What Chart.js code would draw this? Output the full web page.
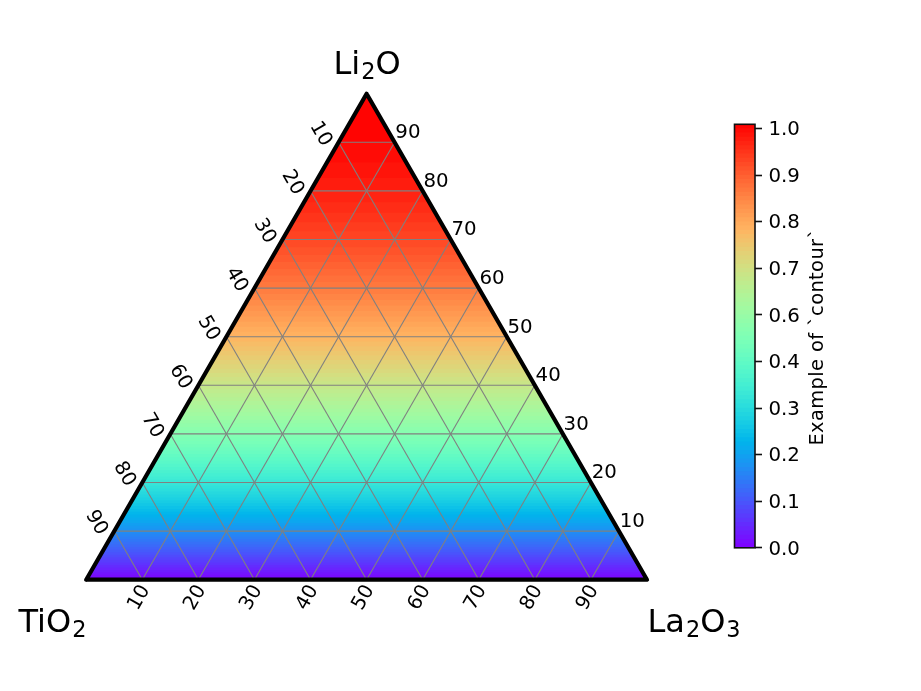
<!DOCTYPE html>
<html>
<head>
<meta charset="utf-8">
<style>
html,body{margin:0;padding:0;background:#fff;width:921px;height:691px;overflow:hidden}
canvas{position:absolute;display:block}
</style>
<script src="https://cdn.jsdelivr.net/npm/chart.js@4"></script>
</head>
<body>
<canvas id="ternary" width="921" height="691" style="left:0;top:0;width:921px;height:691px"></canvas>
<canvas id="colorbar" width="180" height="470" style="left:720px;top:100px;width:180px;height:470px"></canvas>
<script>
// Contour levels of the colour bar (lower edge of each band, plus the top edge)
const contourLevels = [
0.00,0.01,0.02,0.03,0.04,0.05,0.06,0.07,0.08,0.09,
0.10,0.11,0.12,0.13,0.14,0.15,0.16,0.17,0.18,0.19,
0.20,0.21,0.22,0.23,0.24,0.25,0.26,0.27,0.28,0.29,
0.30,0.31,0.32,0.33,0.34,0.35,0.36,0.37,0.38,0.39,
0.40,0.41,0.42,0.43,0.44,0.45,0.46,0.47,0.48,0.49,
0.50,0.51,0.52,0.53,0.54,0.55,0.56,0.57,0.58,0.59,
0.60,0.61,0.62,0.63,0.64,0.65,0.66,0.67,0.68,0.69,
0.70,0.71,0.72,0.73,0.74,0.75,0.76,0.77,0.78,0.79,
0.80,0.81,0.82,0.83,0.84,0.85,0.86,0.87,0.88,0.89,
0.90,0.91,0.92,0.93,0.94,0.95,0.96,0.97,0.98,0.99,1.00];
// Li2O percentage at which each contour level is read in the triangle
const li2oAtLevel = [
0.00,0.50,1.01,1.51,2.02,2.53,3.05,3.56,4.08,4.61,
5.13,5.66,6.19,6.73,7.26,7.80,8.35,8.90,9.45,10.00,
10.56,11.12,11.68,12.25,12.82,13.40,13.98,14.56,15.15,15.74,
16.33,16.93,17.54,18.15,18.76,19.38,20.00,20.63,21.26,21.90,
22.54,23.19,23.84,24.50,25.17,25.84,26.52,27.20,27.89,28.59,
29.29,30.00,30.72,31.44,32.18,32.92,33.67,34.43,35.19,35.97,
36.75,37.55,38.36,39.17,40.00,40.84,41.69,42.55,43.43,44.32,
45.23,46.15,47.08,48.04,49.01,50.00,51.01,52.04,53.10,54.17,
55.28,56.41,57.57,58.77,60.00,61.27,62.58,63.94,65.36,66.83,
68.38,70.00,71.72,73.54,75.51,77.64,80.00,82.68,85.86,90.00];
const gridTicks = [10,20,30,40,50,60,70,80,90];
const colorbarTicks = [0,0.11,0.22,0.33,0.44,0.55,0.66,0.77,0.88,0.99];
const colorbarLabels = ['0.0','0.1','0.2','0.3','0.4','0.6','0.7','0.8','0.9','1.0'];
const colorbarTitle = 'Example of `contour`';
const FONT = '"DejaVu Sans", sans-serif';

function rainbow(v){
  const c = [Math.abs(2*v-0.5), Math.sin(Math.PI*v), Math.cos(Math.PI*v/2)];
  return 'rgb('+c.map(x=>Math.round(255*Math.min(1,Math.max(0,x)))).join(',')+')';
}
// ternary (TiO2, Li2O, La2O3) percentage -> cartesian data coordinates of the scales
function tern(t,l,r){ return {x:r+l/2, y:l}; }

const datasets = [];
li2oAtLevel.forEach((l,k)=>{
  datasets.push({
    data:[tern(100-l,l,0), tern(0,100,0), tern(0,l,100-l)],
    borderWidth:0, borderColor:'rgba(0,0,0,0)', pointRadius:0, tension:0,
    backgroundColor:rainbow((contourLevels[k]+contourLevels[k+1])/2),
    fill:{target:{value:l}}, order:1000-k, clip:false
  });
});
gridTicks.forEach(g=>{
  [[tern(100-g,g,0),tern(0,g,100-g)],
   [tern(100-g,0,g),tern(0,100-g,g)],
   [tern(g,100-g,0),tern(g,0,100-g)]].forEach(seg=>{
    datasets.push({data:seg, borderColor:'#808080', borderWidth:1.1, pointRadius:0,
      tension:0, fill:false, order:1, clip:false});
  });
});
datasets.push({
  data:[tern(100,0,0),tern(0,100,0),tern(0,0,100),tern(100,0,0),tern(0,100,0)],
  borderColor:'#000', borderWidth:4.2, borderJoinStyle:'round', borderCapStyle:'round',
  pointRadius:0, tension:0, fill:false, order:0, clip:false
});

function drawFormula(ctx, parts, x, baseline, size){
  // parts: [text, isSubscript]
  for(const [txt,sub] of parts){
    const s = sub ? size*0.7 : size;
    ctx.font = s+'px '+FONT;
    ctx.textAlign='left'; ctx.textBaseline='alphabetic';
    if(sub) x += 1;
    ctx.fillText(txt,x,baseline+(sub?size*0.165:0));
    x += ctx.measureText(txt).width;
  }
}
const ternaryText = {
  id:'ternaryText',
  afterDatasetsDraw(chart){
    const {ctx,scales:{x:sx,y:sy}} = chart;
    const px = p => [sx.getPixelForValue(p.x), sy.getPixelForValue(p.y)];
    ctx.save();
    ctx.fillStyle='#000';
    ctx.font='19.8px '+FONT; ctx.textAlign='center'; ctx.textBaseline='middle';
    const put=(p,dx,dy,rot,txt)=>{
      const [a,b]=px(p);
      ctx.save(); ctx.translate(a+dx,b+dy); ctx.rotate(rot*Math.PI/180);
      ctx.fillText(txt,0,0); ctx.restore();
    };
    gridTicks.forEach(g=>{
      const s=String(g);
      put(tern(100-g,0,g),-3,18,-60,s);      // base: La2O3
      put(tern(g,100-g,0),-18,-8.3,60,s);    // left: TiO2
      put(tern(0,g,100-g),13.3,-9.3,0,s);    // right: Li2O
    });
    drawFormula(ctx,[['Li',0],['2',1],['O',0]],333.5,74,32);
    drawFormula(ctx,[['TiO',0],['2',1]],18.5,632,32);
    drawFormula(ctx,[['La',0],['2',1],['O',0],['3',1]],647.5,632,32);
    ctx.restore();
  }
};

new Chart(document.getElementById('ternary'),{
  type:'line',
  data:{datasets},
  plugins:[ternaryText],
  options:{
    responsive:false, animation:false, devicePixelRatio:1, parsing:true,
    layout:{padding:{left:86.2,right:274,top:93.7,bottom:111.3}},
    plugins:{legend:{display:false},tooltip:{enabled:false},title:{display:false}},
    scales:{
      x:{type:'linear',min:0,max:100,display:false},
      y:{type:'linear',min:0,max:100,display:false}
    }
  }
});

// Colour bar: bands painted from the top level down; the first dataset lies on top
const cbDatasets = contourLevels.slice(1).map((top,k)=>({
  data:[top],
  backgroundColor:rainbow((contourLevels[k]+top)/2),
  borderWidth:0, barPercentage:1, categoryPercentage:1, grouped:false, order:k
}));
const colorbarFrame = {
  id:'colorbarFrame',
  afterDatasetsDraw(chart){
    const {ctx,chartArea:a,scales:{y}} = chart;
    ctx.save();
    ctx.strokeStyle='#111'; ctx.lineWidth=1.6;
    ctx.strokeRect(a.left,a.top,a.right-a.left,a.bottom-a.top);
    ctx.fillStyle='#000'; ctx.font='19.8px '+FONT;
    ctx.textAlign='left'; ctx.textBaseline='middle';
    colorbarTicks.forEach((v,i)=>{
      ctx.fillText(colorbarLabels[i],48.5,y.getPixelForValue(v)+1.6);
    });
    ctx.font='19.4px '+FONT;
    ctx.textAlign='center';
    ctx.letterSpacing='0.4px';
    ctx.translate(97.5,237); ctx.rotate(-Math.PI/2);
    ctx.fillText(colorbarTitle,0,0);
    ctx.restore();
  }
};
new Chart(document.getElementById('colorbar'),{
  type:'bar',
  data:{labels:['level'],datasets:cbDatasets},
  plugins:[colorbarFrame],
  options:{
    responsive:false, animation:false, devicePixelRatio:1,
    layout:{padding:{left:14.5,right:80,top:24.3,bottom:22.2}},
    plugins:{legend:{display:false},tooltip:{enabled:false}},
    scales:{
      x:{display:false,offset:true,grid:{display:false}},
      y:{
        type:'linear',min:0,max:1,position:'right',
        afterBuildTicks(s){ s.ticks = colorbarTicks.map(v=>({value:v})); },
        afterFit(s){ s.width = 65; },
        border:{display:false},
        grid:{drawOnChartArea:false,tickLength:7,tickColor:'#111',tickWidth:1.6},
        ticks:{display:false,autoSkip:false}
      }
    }
  }
});
</script>
</body>
</html>
